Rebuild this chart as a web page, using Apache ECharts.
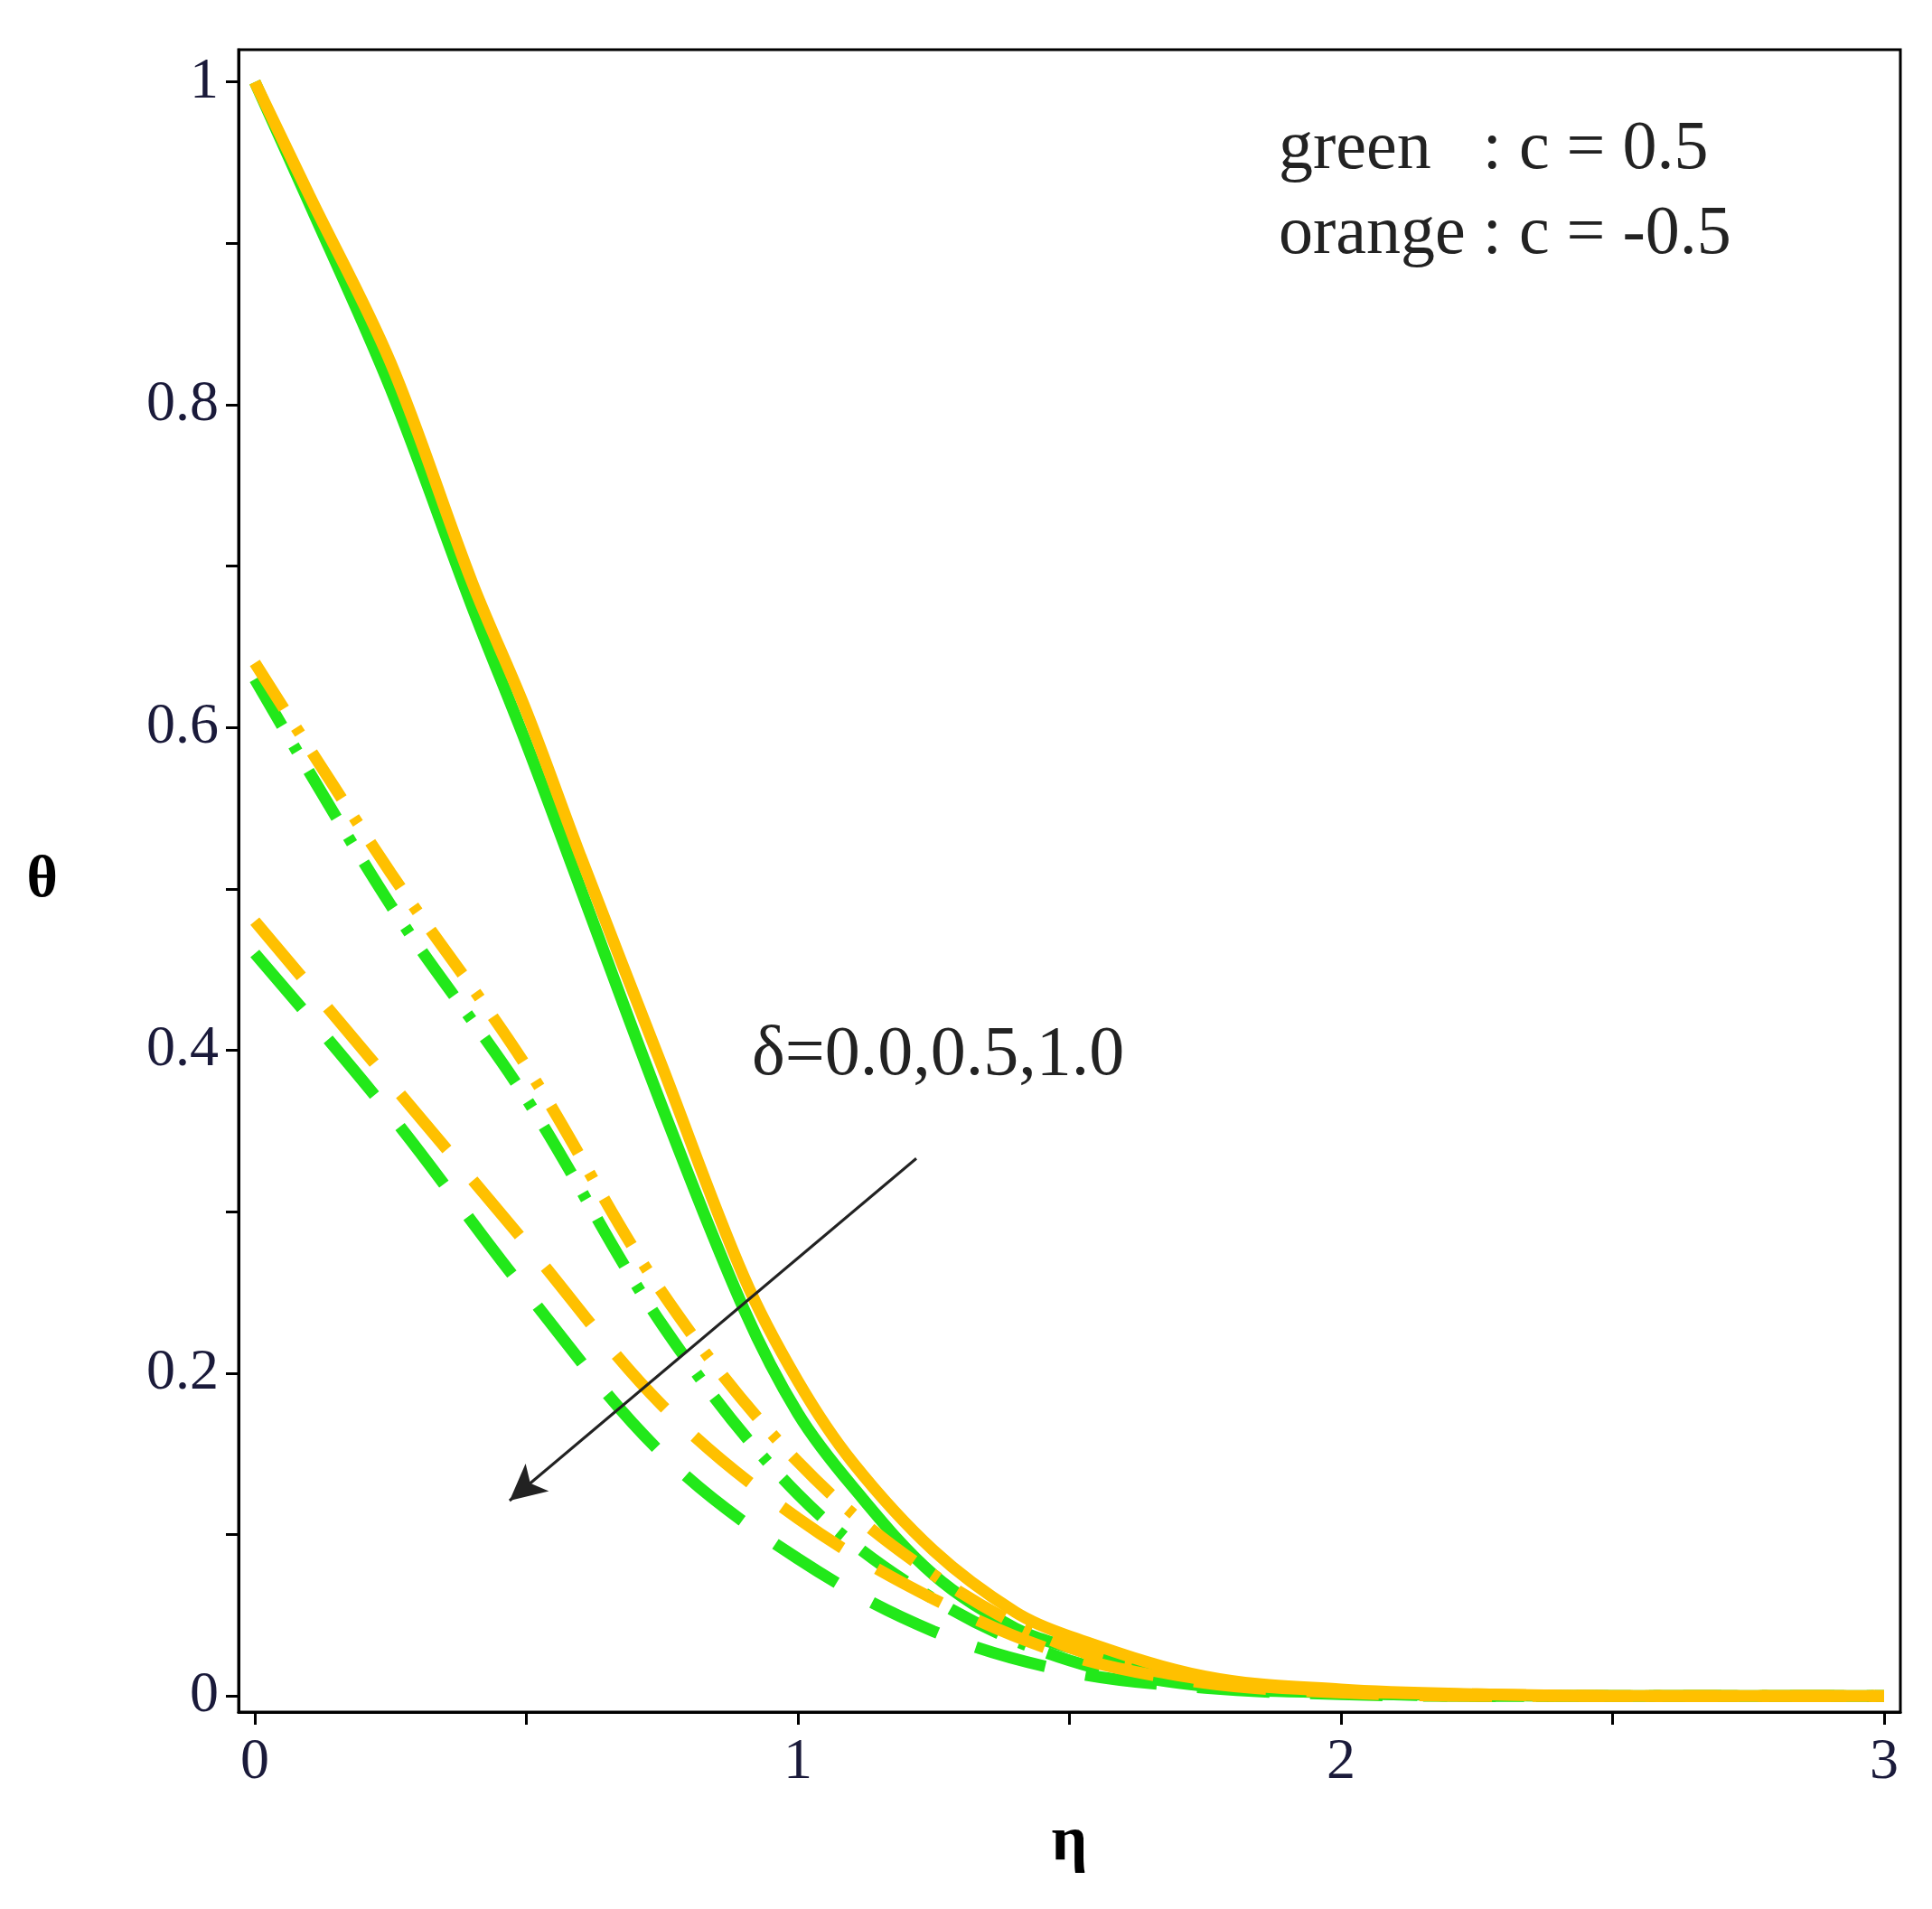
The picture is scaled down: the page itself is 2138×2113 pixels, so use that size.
<!DOCTYPE html><html><head><meta charset="utf-8">
<script src="https://cdn.jsdelivr.net/npm/echarts@6/dist/echarts.min.js"></script>
<style>html,body{margin:0;background:#fff}#c{width:2138px;height:2113px}</style></head><body><div id="c"></div>
<script>
const eta=[0,0.1,0.25,0.4,0.5,0.6,0.75,0.9,1.0,1.1,1.25,1.4,1.5,1.75,2.0,2.25,2.5,3.0];
const solidOrange=[1,0.93,0.826,0.69,0.61,0.52,0.39,0.26,0.195,0.145,0.09,0.052,0.037,0.012,0.004,0.001,0,0];
const solidGreen=[1,0.925,0.81,0.675,0.59,0.5,0.365,0.24,0.175,0.13,0.075,0.042,0.03,0.008,0.002,0.0005,0,0];
const eta2=[0,0.25,0.5,0.75,1.0,1.25,1.5,1.75,2.0,2.25,2.5,3.0];
const d05Orange=[0.64,0.51,0.39,0.25,0.145,0.075,0.03,0.01,0.003,0.001,0,0];
const d05Green=[0.63,0.49,0.37,0.23,0.125,0.06,0.022,0.006,0.002,0,0,0];
const d10Orange=[0.48,0.38,0.28,0.18,0.11,0.06,0.025,0.008,0.002,0,0,0];
const d10Green=[0.46,0.36,0.25,0.15,0.085,0.04,0.015,0.005,0.001,0,0,0];
const xTicks=[0,0.5,1,1.5,2,2.5,3], xLabels=[0,1,2,3];
const yTicks=[0,0.1,0.2,0.3,0.4,0.5,0.6,0.7,0.8,0.9,1], yLabels=[0,0.2,0.4,0.6,0.8,1];
const OR='#ffc000', GR='#22e81a';
const font='Liberation Serif';
function s(x,y,c,type){return {type:'line',data:x.map((v,i)=>[v,y[i]]),smooth:0.35,symbol:'none',lineStyle:{color:c,width:13,type:type},z:c===OR?3:2};}
const ch=echarts.init(document.getElementById('c'));
ch.setOption({animation:false,
grid:{left:264,right:35,top:55,bottom:218,show:true,borderColor:'#000',borderWidth:3,backgroundColor:'transparent'},
xAxis:{type:'value',min:-0.03,max:3.03,name:'η',nameLocation:'middle',nameGap:110,nameTextStyle:{fontFamily:font,fontSize:70,fontWeight:'bold',color:'#000'},
 axisLine:{onZero:false,lineStyle:{color:'#000',width:3}},splitLine:{show:false},
 axisTick:{customValues:xTicks,length:14,lineStyle:{color:'#000',width:3}},
 axisLabel:{customValues:xLabels,fontFamily:font,fontSize:64,color:'#1a1a3a',margin:24}},
yAxis:{type:'value',min:-0.01,max:1.02,name:'θ',nameLocation:'middle',nameGap:200,nameRotate:0,nameTextStyle:{fontFamily:font,fontSize:66,fontWeight:'bold',color:'#000'},
 axisLine:{onZero:false,lineStyle:{color:'#000',width:3}},splitLine:{show:false},
 axisTick:{customValues:yTicks,length:14,lineStyle:{color:'#000',width:3}},
 axisLabel:{customValues:yLabels,fontFamily:font,fontSize:64,color:'#1a1a3a',margin:22}},
series:[s(eta,solidGreen,GR,'solid'),s(eta,solidOrange,OR,'solid'),
 s(eta2,d05Green,GR,[60,25,8,25]),s(eta2,d05Orange,OR,[60,25,8,25]),
 s(eta2,d10Green,GR,[80,45]),s(eta2,d10Orange,OR,[80,45]),
 {type:'line',data:[],markLine:{silent:true,symbol:['none','arrow'],symbolSize:[30,40],label:{show:false},
  lineStyle:{color:'#222',width:3,type:'solid'},data:[[{coord:[1.218,0.333]},{coord:[0.469,0.121]}]]}}],
graphic:[
 {type:'text',left:1415,top:128,style:{text:'green   : c = 0.5',font:'76px "Liberation Serif"',fill:'#222'}},
 {type:'text',left:1415,top:222,style:{text:'orange : c = -0.5',font:'76px "Liberation Serif"',fill:'#222'}},
 {type:'text',left:832,top:1130,style:{text:'δ=0.0,0.5,1.0',font:'78px "Liberation Serif"',fill:'#222'}}
]});
</script></body></html>
